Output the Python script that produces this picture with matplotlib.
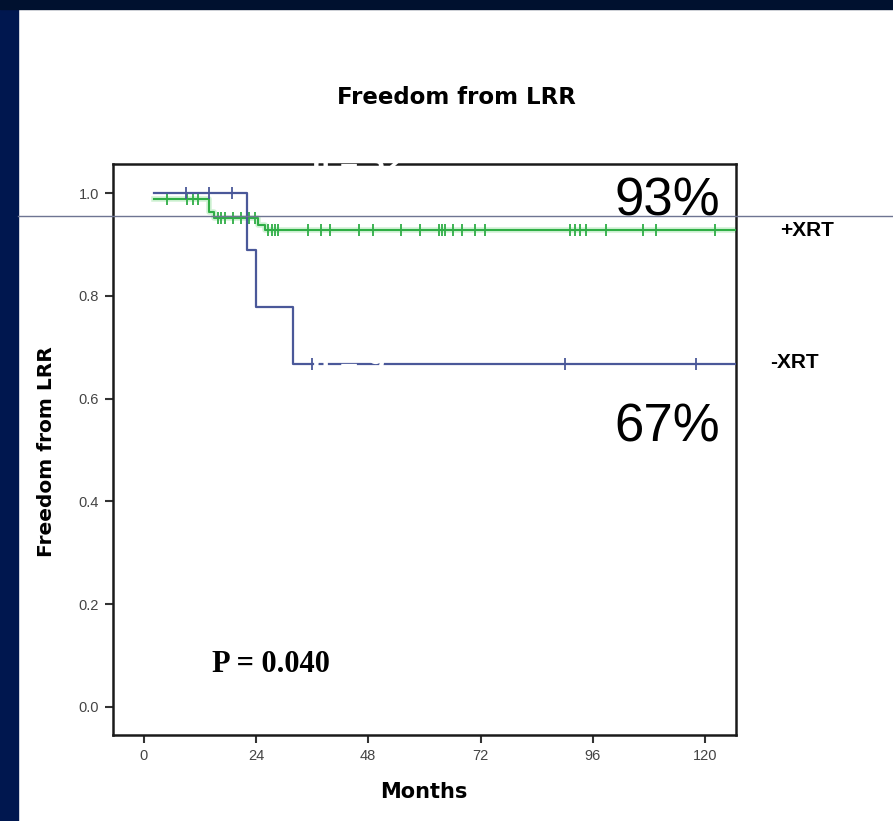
import numpy as np
import matplotlib
matplotlib.use("Agg")
import matplotlib.pyplot as plt
from matplotlib.patches import Rectangle

# Kaplan-Meier step data (months, survival)
no_xrt_t = [2.2, 22.1, 24.0, 31.9, 126.6]
no_xrt_s = [1.0, 0.889, 0.778, 0.667, 0.667]
no_xrt_cens = [9, 14, 19, 36, 90, 118]

xrt_t = [2.2, 14.0, 15.0, 24.5, 26.0, 126.6]
xrt_s = [0.988, 0.963, 0.951, 0.939, 0.928, 0.928]
xrt_cens = [5, 9.3, 10.5, 11.7,
            15.8, 16.6, 17.4, 19.2, 20.8, 22.6, 23.8,
            26.6, 27.4, 28.1, 28.8, 35.2, 38, 39.8, 46.1, 49.1, 55.1, 59.0,
            63.2, 63.7, 64.4, 66.2, 68, 70.8, 72.9, 91.1, 92.2, 93.2, 94.6,
            98.9, 106.8, 109.6, 122.1]

x_ticks = [0, 24, 48, 72, 96, 120]
y_ticks = [0.0, 0.2, 0.4, 0.6, 0.8, 1.0]

blue = "#4a5899"
green = "#2fae46"


def surv_at(t, times, surv):
    i = np.searchsorted(times, t, side="right") - 1
    return np.array(surv)[np.clip(i, 0, len(surv) - 1)]


W, H = 893, 821
fig = plt.figure(figsize=(W / 100, H / 100), dpi=100)
fig.patch.set_facecolor("white")

# slide frame
fig.patches.append(Rectangle((0, 0), 18 / W, 1, transform=fig.transFigure,
                             color="#00174f", zorder=0))
fig.patches.append(Rectangle((0, 1 - 9 / H), 1, 9 / H, transform=fig.transFigure,
                             color="#00112f", zorder=0))

ax = fig.add_axes([112.7 / W, 1 - 735 / H, (736 - 112.7) / W, (735 - 164) / H])
ax.set_xlim(-6.6, 126.6)
ax.set_ylim(-0.055, 1.057)

# curves
ax.step(xrt_t, xrt_s, where="post", color="#d2f2d5", lw=4, zorder=2)
ax.step(xrt_t, xrt_s, where="post", color=green, lw=1.5, zorder=3)
ax.step(no_xrt_t, no_xrt_s, where="post", color=blue, lw=1.6, zorder=4)

ax.plot(xrt_cens, surv_at(xrt_cens, xrt_t, xrt_s), ls="none", marker="|",
        ms=8, mew=1.3, color=green, zorder=3)
ax.plot(no_xrt_cens, surv_at(no_xrt_cens, no_xrt_t, no_xrt_s), ls="none",
        marker="|", ms=8, mew=1.3, color=blue, zorder=4)

ax.set_xticks(x_ticks)
ax.set_yticks(y_ticks)
ax.set_yticklabels([f"{v:.1f}" for v in y_ticks])
for s in ax.spines.values():
    s.set_linewidth(1.8)
    s.set_color("#1a1a1a")
ax.tick_params(direction="out", length=6, width=1.5, color="#333333",
               labelsize=10.5, labelcolor="#444444", pad=4)
for lbl in ax.get_xticklabels() + ax.get_yticklabels():
    lbl.set_family("Liberation Sans")

ax.set_xlabel("Months", fontsize=15, fontweight="bold", va="center")
ax.set_ylabel("Freedom from LRR", fontsize=14.5, fontweight="bold", va="center")
ax.xaxis.set_label_coords((424 - 112.7) / 623.3, (735 - 792) / 571)
ax.yaxis.set_label_coords((47 - 112.7) / 623.3, (735 - 452) / 571)

ax.text((212 - 112.7) / 623.3, (735 - 665) / 571, "P = 0.040", transform=ax.transAxes,
        family="Liberation Serif", fontsize=22, fontweight="bold",
        ha="left", va="center")

# white overlay remnants
ax.text(0.32, 1.0, "n = 32", transform=ax.transAxes, color="white",
        fontsize=18, fontweight="bold", ha="left", va="center", zorder=6, clip_on=False)
ax.text(0.32, surv_at(45, no_xrt_t, no_xrt_s), "n = 9", transform=ax.get_yaxis_transform(),
        color="white", fontsize=18, fontweight="bold", ha="left", va="center", zorder=6)

fig.text(456 / W, 1 - 98 / H, "Freedom from LRR", fontsize=16.5, fontweight="bold",
         ha="center", va="center")
fig.text(780 / W, 1 - 231 / H, "+XRT", fontsize=15, fontweight="bold",
         family="Liberation Sans", ha="left", va="center")
fig.text(770 / W, 1 - 362 / H, "-XRT", fontsize=15, fontweight="bold",
         family="Liberation Sans", ha="left", va="center")
fig.text(720 / W, 1 - 202 / H, "93%", fontsize=38, family="Liberation Sans",
         ha="right", va="center", zorder=7)
fig.text(720 / W, 1 - 427 / H, "67%", fontsize=38, family="Liberation Sans",
         ha="right", va="center", zorder=7)

# slide guide line
fig.add_artist(plt.Line2D([18 / W, 1], [1 - 216 / H, 1 - 216 / H],
                          transform=fig.transFigure, color="#6e7592", lw=1, zorder=10))

fig.savefig("out.png", dpi=100, facecolor=fig.get_facecolor())
